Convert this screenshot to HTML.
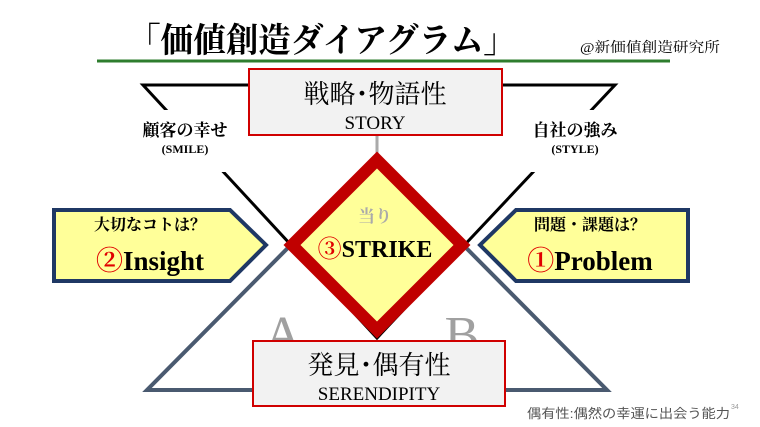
<!DOCTYPE html>
<html><head><meta charset="utf-8"><style>
html,body{margin:0;padding:0;background:#fff;}
svg{display:block;}
text{font-family:"Liberation Serif","Noto Serif CJK SC",serif;}
.s{font-family:"Liberation Sans","Noto Sans CJK JP",sans-serif;}
</style></head><body>
<svg width="760" height="427" viewBox="0 0 760 427">
<text x="128" y="52" font-size="34" font-weight="bold" textLength="388" lengthAdjust="spacingAndGlyphs">「価値創造ダイアグラム」</text>
<text x="580" y="52" font-size="14" textLength="140" lengthAdjust="spacingAndGlyphs">@新価値創造研究所</text>
<line x1="97" y1="61" x2="670" y2="61" stroke="#2e7d2e" stroke-width="3"/>
<!-- inverted triangle -->
<polygon points="143,85 615,85 377,338" fill="none" stroke="#000" stroke-width="3"/>
<!-- upright triangle -->
<polygon points="377,158 607,390 147,390" fill="none" stroke="#4a5a70" stroke-width="4"/>
<!-- white label backings -->
<rect x="115" y="110" width="140" height="62" fill="#fff"/>
<rect x="505" y="110" width="140" height="62" fill="#fff"/>
<text x="185" y="136" font-size="17" font-weight="bold" text-anchor="middle">顧客の幸せ</text>
<text x="185" y="153" font-size="12" font-weight="bold" text-anchor="middle">(SMILE)</text>
<text x="575" y="136" font-size="17" font-weight="bold" text-anchor="middle">自社の強み</text>
<text x="575" y="153" font-size="12" font-weight="bold" text-anchor="middle">(STYLE)</text>
<text x="283" y="352" font-size="52" fill="#a0a0a0" text-anchor="middle">A</text>
<text x="462" y="352" font-size="52" fill="#a0a0a0" text-anchor="middle">B</text>
<line x1="377" y1="135" x2="377" y2="160" stroke="#aaa" stroke-width="3"/>
<!-- diamond -->
<polygon points="377,160 462,245 377,330 292,245" fill="#ffff99" stroke="#c00000" stroke-width="12" stroke-linejoin="miter"/>
<text x="375" y="222" font-size="17" font-weight="bold" fill="#aaa" text-anchor="middle">当り</text>
<text x="375" y="257" font-size="24" font-weight="bold" text-anchor="middle"><tspan fill="#e00000">③</tspan>STRIKE</text>
<!-- pentagons -->
<polygon points="54,210 230,210 266,245 230,281 54,281" fill="#ffff99" stroke="#1f3864" stroke-width="4"/>
<text x="150" y="230" font-size="16" font-weight="bold" text-anchor="middle">大切なコトは？</text>
<text x="150" y="270" font-size="27" font-weight="bold" text-anchor="middle"><tspan fill="#e00000">②</tspan>Insight</text>
<polygon points="688,210 516,210 480,245 516,281 688,281" fill="#ffff99" stroke="#1f3864" stroke-width="4"/>
<text x="590" y="230" font-size="16" font-weight="bold" text-anchor="middle">問題・課題は？</text>
<text x="590" y="270" font-size="27" font-weight="bold" text-anchor="middle"><tspan fill="#e00000">①</tspan>Problem</text>
<!-- boxes -->
<rect x="249" y="69" width="253" height="66" fill="#f2f2f2" stroke="#d00000" stroke-width="2"/>
<text x="375" y="103" font-size="26" text-anchor="middle">戦略･物語性</text>
<text x="375" y="129" font-size="19" text-anchor="middle">STORY</text>
<rect x="253" y="341" width="252" height="65" fill="#f2f2f2" stroke="#d00000" stroke-width="2"/>
<text x="379" y="374" font-size="26" text-anchor="middle">発見･偶有性</text>
<text x="379" y="400" font-size="19" text-anchor="middle">SERENDIPITY</text>
<text class="s" x="527" y="418" font-size="13" fill="#555" textLength="203" lengthAdjust="spacingAndGlyphs">偶有性:偶然の幸運に出会う能力</text>
<text class="s" x="731" y="409" font-size="7" fill="#999">34</text>
</svg>
</body></html>
